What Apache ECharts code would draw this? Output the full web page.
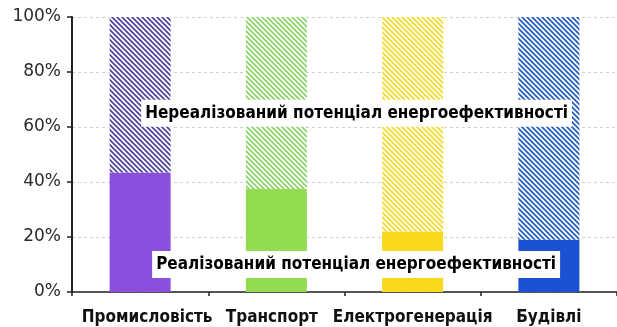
<!DOCTYPE html>
<html>
<head>
<meta charset="utf-8">
<script src="https://cdn.jsdelivr.net/npm/echarts@6/dist/echarts.min.js"></script>
<style>
  html, body { margin: 0; padding: 0; background: #fff; }
  #chart { width: 617px; height: 327px; }
</style>
</head>
<body>
<div id="chart"></div>
<script>
// Sectors and shares of the energy-efficiency potential (%)
const categories = ['Промисловість', 'Транспорт', 'Електрогенерація', 'Будівлі'];
const realized = [43.5, 37.5, 22, 19];
const unrealized = [56.5, 62.5, 78, 81];
const yTicks = [0, 20, 40, 60, 80, 100];

const solidColors = ['#8a4fdc', '#93dc52', '#fad81e', '#1c52d2'];
const hatchColors = ['#5246a0', '#8cd46a', '#f4da2c', '#275fc0'];

const labelTop = 'Нереалізований потенціал енергоефективності';
const labelBottom = 'Реалізований потенціал енергоефективності';

// Diagonal hatch tile (lines run from upper-left to lower-right)
function hatch(color) {
  const s = 5;
  const c = document.createElement('canvas');
  c.width = s; c.height = s;
  const g = c.getContext('2d');
  g.fillStyle = '#fff';
  g.fillRect(0, 0, s, s);
  g.strokeStyle = color;
  g.lineWidth = 1.8;
  g.beginPath();
  g.moveTo(-1, -1); g.lineTo(s + 1, s + 1);
  g.moveTo(-1, s - 1); g.lineTo(1, s + 1);
  g.moveTo(s - 1, -1); g.lineTo(s + 1, 1);
  g.stroke();
  return { image: c, repeat: 'repeat' };
}

const chart = echarts.init(document.getElementById('chart'), null, { renderer: 'canvas' });

const condBold = '"DejaVu Sans Condensed", "DejaVu Sans", sans-serif';

// small per-label nudges keep neighbouring category names apart
const labelPads = [[0, 0, 0, 14], [0, 9, 0, 0], [0, 0, 0, 0], [0, 0, 0, 0]];

chart.setOption({
  animation: false,
  grid: { left: 72, right: -3, top: 17, bottom: 35, containLabel: false },
  xAxis: {
    type: 'category',
    data: categories.map((c, i) => ({ value: c, textStyle: { padding: labelPads[i] } })),
    axisLine: { lineStyle: { color: '#222', width: 1.5 } },
    axisTick: { show: true, length: 4, lineStyle: { color: '#222', width: 1.5 } },
    axisLabel: {
      interval: 0,
      color: '#111', fontFamily: condBold, fontWeight: 'bold', fontSize: 17, margin: 17
    }
  },
  yAxis: {
    type: 'value',
    min: 0, max: 100, interval: 20,
    axisLine: { show: true, lineStyle: { color: '#222', width: 2 } },
    axisTick: { show: true, length: 5, lineStyle: { color: '#222', width: 1.5 } },
    splitLine: { lineStyle: { color: '#d0d0d0', type: [3, 3], width: 1 } },
    axisLabel: {
      color: '#2a2a2a', fontFamily: '"DejaVu Sans", sans-serif', fontSize: 17, margin: 11,
      formatter: v => yTicks.includes(v) ? v + '%' : ''
    }
  },
  series: [
    {
      type: 'bar', stack: 'total', barWidth: 61,
      data: realized.map((v, i) => ({ value: v, itemStyle: { color: solidColors[i] } }))
    },
    {
      type: 'bar', stack: 'total', barWidth: 61,
      data: unrealized.map((v, i) => ({ value: v, itemStyle: { color: hatch(hatchColors[i]) } }))
    }
  ]
});

// Band labels anchored to the first category and placed in value coordinates
function placeLabels() {
  const c0 = chart.convertToPixel({ gridIndex: 0 }, [0, 65]);
  const c0b = chart.convertToPixel({ gridIndex: 0 }, [0, 10]);
  const item = (text, x, y) => ({
    type: 'text', x: x, y: y,
    style: {
      text: text, fill: '#000', fontFamily: condBold, fontWeight: 'bold', fontSize: 17,
      align: 'left', verticalAlign: 'middle',
      backgroundColor: '#fff', padding: [5, 4, 5, 4]
    },
    z: 10
  });
  chart.setOption({ graphic: [item(labelTop, c0[0] + 1, c0[1]), item(labelBottom, c0b[0] + 12, c0b[1])] });
}
placeLabels();
</script>
</body>
</html>
